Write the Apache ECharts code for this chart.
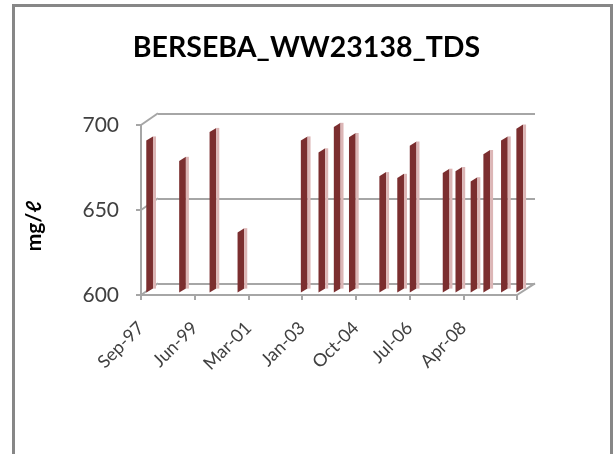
<!DOCTYPE html>
<html>
<head>
    <meta charset="UTF-8">
    <title>BERSEBA_WW23138_TDS</title>
    <script src="https://cdn.jsdelivr.net/npm/echarts@6/dist/echarts.min.js"></script>
    <style>
        html, body { margin: 0; padding: 0; background: #fff; }
        #chart { width: 613px; height: 454px; }
    </style>
</head>
<body>
    <div id="chart"></div>
    <script>
        // sample dates and TDS values (mg/l)
        const sampleDates = ['1997-11', '1998-12', '1999-12', '2000-11', '2002-12', '2003-07',
            '2004-01', '2004-07', '2005-07', '2006-02', '2006-07', '2007-08', '2008-01',
            '2008-07', '2008-12', '2009-07', '2010-01'];
        const tdsValues = [690, 678, 695, 636, 690, 683, 698, 692, 669, 668, 687, 671, 672, 666, 682, 690, 697];
        const xTickLabels = ['Sep-97', 'Jun-99', 'Mar-01', 'Jan-03', 'Oct-04', 'Jul-06', 'Apr-08', ''];

        const DAY = 86400000;
        const xStart = Date.UTC(1997, 8, 15);
        const xStep = 645 * DAY;
        const xEnd = xStart + 7 * xStep;

        function toTime(s) {
            const [y, m] = s.split('-').map(Number);
            return Date.UTC(y, m - 1, 15);
        }
        const seriesData = sampleDates.map((d, i) => [toTime(d), tdsValues[i]]);

        // front plane / back wall / bar plane (3d look)
        const front = { left: 141, top: 125, width: 376, height: 170 };
        const back = { left: 158, top: 113.3, width: 377, height: 170 };
        const plane = { left: 146, top: 121.6, width: 376, height: 170 };

        const chart = echarts.init(document.getElementById('chart'));
        const gridLine = { color: '#a6a6a6', width: 2 };

        function xAxisBase(gridIndex) {
            return {
                type: 'value', gridIndex: gridIndex, min: xStart, max: xEnd, interval: xStep,
                splitLine: { show: false }
            };
        }
        function yAxisBase(gridIndex) {
            return { type: 'value', gridIndex: gridIndex, min: 600, max: 700, interval: 50 };
        }

        const option = {
            backgroundColor: '#fff',
            animation: false,
            title: {
                text: 'BERSEBA_WW23138_TDS',
                left: 'center',
                top: 28,
                textStyle: { fontFamily: 'Lato', fontWeight: 'bold', fontSize: 28.5, color: '#000' }
            },
            grid: [
                Object.assign({}, front),
                Object.assign({}, back),
                Object.assign({}, plane)
            ],
            xAxis: [
                Object.assign(xAxisBase(0), {
                    axisLine: { lineStyle: gridLine },
                    axisTick: { show: true, length: 5, lineStyle: gridLine },
                    axisLabel: {
                        rotate: 45, margin: 30, fontFamily: 'Lato', fontSize: 18, color: '#404040',
                        showMinLabel: true, showMaxLabel: true,
                        formatter: v => xTickLabels[Math.round((v - xStart) / xStep)] || ''
                    }
                }),
                Object.assign(xAxisBase(1), { show: false }),
                Object.assign(xAxisBase(2), { show: false })
            ],
            yAxis: [
                Object.assign(yAxisBase(0), {
                    name: 'mg/ℓ',
                    nameLocation: 'middle',
                    nameRotate: 90,
                    nameGap: 96,
                    nameTextStyle: {
                        fontFamily: 'Lato', fontWeight: 'bold', fontSize: 21, color: '#000',
                        padding: [0, 32, 0, 0]
                    },
                    axisLine: { show: true, lineStyle: gridLine },
                    axisTick: { show: true, length: 5, lineStyle: gridLine },
                    axisLabel: { margin: 22, fontFamily: 'Lato', fontSize: 21, color: '#404040' },
                    splitLine: { show: false }
                }),
                Object.assign(yAxisBase(1), {
                    axisLine: { show: false }, axisTick: { show: false }, axisLabel: { show: false },
                    splitLine: { show: true, lineStyle: gridLine }
                }),
                Object.assign(yAxisBase(2), { show: false })
            ],
            graphic: [
                {
                    type: 'rect', shape: { x: 13.5, y: 5.5, width: 598, height: 500 },
                    style: { fill: null, stroke: '#878787', lineWidth: 3 }, silent: true
                }
            ].concat([0, 0.5, 1].map(f => ({
                // side wall lines from the front axis to the back wall
                type: 'line', silent: true, z: 1,
                shape: {
                    x1: front.left, y1: front.top + f * front.height,
                    x2: back.left, y2: back.top + f * back.height
                },
                style: { stroke: '#a6a6a6', lineWidth: 2 }
            }))).concat([{
                type: 'line', silent: true, z: 1,
                shape: {
                    x1: front.left + front.width, y1: front.top + front.height,
                    x2: back.left + back.width, y2: back.top + back.height
                },
                style: { stroke: '#a6a6a6', lineWidth: 2 }
            }]),
            series: [{
                type: 'custom',
                xAxisIndex: 2,
                yAxisIndex: 2,
                data: seriesData,
                z: 5,
                renderItem: function (params, api) {
                    const p = api.coord([api.value(0), api.value(1)]);
                    const b = api.coord([api.value(0), 600]);
                    const x0 = p[0] - 4.8;
                    return {
                        type: 'group',
                        children: [{
                            type: 'polygon',
                            shape: { points: [[x0, p[1] + 2], [x0 + 6.7, p[1] - 2.2], [x0 + 6.7, b[1] - 3], [x0, b[1] + 1]] },
                            style: { fill: '#7b2e2f' }
                        }, {
                            type: 'polygon',
                            shape: { points: [[x0 + 6.7, p[1] - 2.2], [x0 + 9.7, p[1] - 2.2], [x0 + 9.7, b[1] - 3], [x0 + 6.7, b[1] - 3]] },
                            style: { fill: '#dcb6b6' }
                        }]
                    };
                }
            }]
        };

        chart.setOption(option);
        window.addEventListener('resize', () => chart.resize());
    </script>
</body>
</html>
